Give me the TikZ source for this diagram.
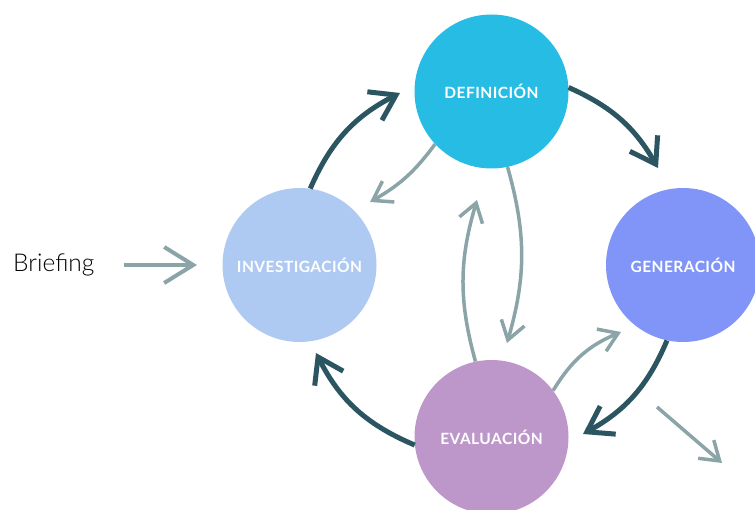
\documentclass[tikz,border=0pt]{standalone}
\usepackage{fontspec}
\setmainfont{Lato}
\newfontfamily\lightfont{Lato Light}
\newfontfamily\stagefont{Lato}[LetterSpace=3]
\usetikzlibrary{arrows.meta}

\definecolor{defc}{HTML}{26BCE3}
\definecolor{invc}{HTML}{AFCAF2}
\definecolor{genc}{HTML}{8095F7}
\definecolor{evac}{HTML}{BE97CA}
\definecolor{darkc}{HTML}{2B5661}
\definecolor{lightc}{HTML}{8AA4A8}

\begin{document}
\begin{tikzpicture}[x=1pt,y=1pt,
  stage/.style={circle, minimum size=154pt, inner sep=0pt, text=white,
    font=\stagefont\bfseries\fontsize{15.5}{15.5}\selectfont},
  cycle/.style={draw=darkc, line width=5pt,
    -{Straight Barb[length=24pt,width=32pt]}},
  side/.style={draw=lightc, line width=3.5pt,
    -{Straight Barb[length=18pt,width=24pt]}},
  entry/.style={draw=lightc, line width=4pt,
    -{Straight Barb[length=29pt,width=36pt]}},
]
\useasboundingbox (0,0) rectangle (755,509);

% the four stages
\node[stage, fill=defc] (def) at (491.5,417.5) {DEFINICIÓN};
\node[stage, fill=invc] (inv) at (299.5,244) {INVESTIGACIÓN};
\node[stage, fill=genc] (gen) at (683,244) {GENERACIÓN};
\node[stage, fill=evac] (eva) at (491.5,72) {EVALUACIÓN};

% input
\node[anchor=west, inner sep=0pt, font=\lightfont\fontsize{24.5}{24.5}\selectfont]
  (brief) at (13,244) {Briefing};

% arrow tips
\coordinate (tInvDef) at (400,416);
\coordinate (tDefGen) at (658,341);
\coordinate (tGenEva) at (583,75);
\coordinate (tEvaInv) at (316,156);
\coordinate (tDefInv) at (370,307);
\coordinate (tDefEva) at (507,166);
\coordinate (tEvaDef) at (477,309);
\coordinate (tEvaGen) at (621,177);
\coordinate (outS) at (657,102);
\coordinate (outT) at (722,46);
\coordinate (tBrief) at (197,244);

% main cycle
\draw[cycle] (inv.82) to[bend left=19.6] (tInvDef);
\draw[cycle] (def.3) to[bend left=18] (tDefGen);
\draw[cycle] (gen.258) to[bend left=19] (tGenEva);
\draw[cycle] (eva.186) to[bend left=20] (tEvaInv);

% feedback loops
\draw[side] (def.223) to[bend left=12] (tDefInv);
\draw[side] (def.282) to[bend left=16] (tDefEva);
\draw[side] (eva.102) to[bend left=16] (tEvaDef);
\draw[side] (eva.37) to[bend left=18] (tEvaGen);
\draw[side] (outS) -- (outT);

% briefing enters research
\draw[entry, shorten <=29pt] (brief.east) -- (tBrief);
\end{tikzpicture}
\end{document}
